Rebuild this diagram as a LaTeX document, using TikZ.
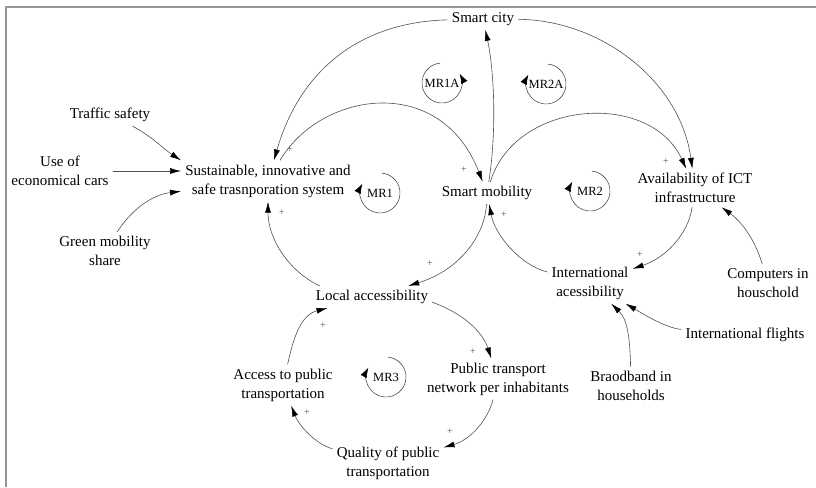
\documentclass[tikz,border=0pt]{standalone}
\usepackage{fontspec}
\setmainfont{Liberation Serif}
\usepackage{tikz}
\usetikzlibrary{arrows.meta}
\definecolor{linkgray}{RGB}{80,80,80}
\definecolor{framegray}{RGB}{150,150,150}
\tikzset{every picture/.style={line width=0.6pt}}
\tikzset{
  var/.style={align=center, inner sep=4pt, font=\fontsize{15}{19}\selectfont},
  link/.style={draw=linkgray, -{Latex[length=11pt,width=6pt,color=black]}},
  pol/.style={inner sep=0pt, font=\fontsize{10}{10}\selectfont, text=linkgray},
  loopname/.style={inner sep=1pt, font=\fontsize{12.5}{12.5}\selectfont},
  looparc/.style={draw=linkgray, -{Latex[length=10pt,width=7pt,color=black]}},
}

\begin{document}
\begin{tikzpicture}[x=1pt,y=1pt,yscale=-1,xscale=1]
\useasboundingbox (0,0) rectangle (816,487);

%Frame
\draw [color=framegray, line width=1.5pt] (816,7) -- (6,7) -- (6,487);

%Variables
\node[var] (city) at (483,19) {Smart city};
\node[var] (traffic) at (110,115) {Traffic safety};
\node[var] (cars) at (60,171) {Use of\\economical cars};
\node[var] (green) at (105,251) {Green mobility\\share};
\node[var] (sustain) at (268,181) {Sustainable, innovative and\\safe trasnporation system};
\node[var] (smob) at (487,193) {Smart mobility};
\node[var] (ict) at (695,188) {Availability of ICT\\infrastructure};
\node[var] (local) at (372,297) {Local accessibility};
\node[var] (intl) at (590,283) {International\\acessibility};
\node[var] (comp) at (768,283) {Computers in\\houschold};
\node[var] (flights) at (745,335) {International flights};
\node[var] (broad) at (631,386) {Braodband in\\households};
\node[var] (ptn) at (498,379) {Public transport\\network per inhabitants};
\node[var] (access) at (283,385) {Access to public\\transportation};
\node[var] (quality) at (388,463) {Quality of public\\transportation};

%Links
\draw[link] (traffic) .. controls (150,135) and (165,150) .. (sustain.north west);
\draw[link] (cars.east) -- (sustain.west |- cars.east);
\draw[link] (green) .. controls (130,212) and (150,195) .. (sustain);
\draw[link] (city) .. controls (360,22) and (300,70) .. (sustain);
\draw[link] (sustain) .. controls (320,92) and (440,72) .. (smob);
\draw[link] (smob) .. controls (497,130) and (494,70) .. (city);
\draw[link] (city) .. controls (600,20) and (680,80) .. (ict);
\draw[link] (smob) .. controls (515,100) and (650,90) .. (ict);
\draw[link] (ict) .. controls (688,235) and (665,258) .. (intl);
\draw[link] (intl) .. controls (520,265) and (495,235) .. (smob);
\draw[link] (smob) .. controls (485,235) and (460,270) .. (local);
\draw[link] (local.168) .. controls (290,272) and (268,240) .. (sustain);
\draw[link] (comp) .. controls (755,240) and (742,222) .. (ict);
\draw[link] (flights) .. controls (665,328) and (640,312) .. (intl);
\draw[link] (broad) .. controls (630,340) and (628,320) .. (intl);
\draw[link] (local.-5) .. controls (460,312) and (482,330) .. (ptn);
\draw[link] (ptn) .. controls (488,420) and (470,440) .. (quality);
\draw[link] (quality) .. controls (318,445) and (300,428) .. (access);
\draw[link] (access) .. controls (293,340) and (300,315) .. (local);

%Polarities
\node[pol] (p1) at (290,150) {+};
\node[pol] (p2) at (464,170) {+};
\node[pol] (p3) at (666,162) {+};
\node[pol] (p4) at (640,255) {+};
\node[pol] (p5) at (504,215) {+};
\node[pol] (p6) at (430,264) {+};
\node[pol] (p7) at (282,213) {+};
\node[pol] (p8) at (473,352) {+};
\node[pol] (p9) at (450,432) {+};
\node[pol] (p10) at (307,413) {+};
\node[pol] (p11) at (323,326) {+};

%Loops
\node[loopname] (mr1) at (380,193) {MR1};
\draw[looparc] (mr1.center) ++(-85:20) arc[start angle=-85, end angle=208, radius=20];
\node[loopname] (mr2) at (590,191) {MR2};
\draw[looparc] (mr2.center) ++(-85:20) arc[start angle=-85, end angle=208, radius=20];
\node[loopname] (mr1a) at (442,83) {MR1A};
\draw[looparc] (mr1a.center) ++(-95:20) arc[start angle=-95, end angle=-388, radius=20];
\node[loopname] (mr2a) at (546,84) {MR2A};
\draw[looparc] (mr2a.center) ++(-85:20) arc[start angle=-85, end angle=208, radius=20];
\node[loopname] (mr3) at (386,377) {MR3};
\draw[looparc] (mr3.center) ++(-85:20) arc[start angle=-85, end angle=208, radius=20];
\end{tikzpicture}
\end{document}
